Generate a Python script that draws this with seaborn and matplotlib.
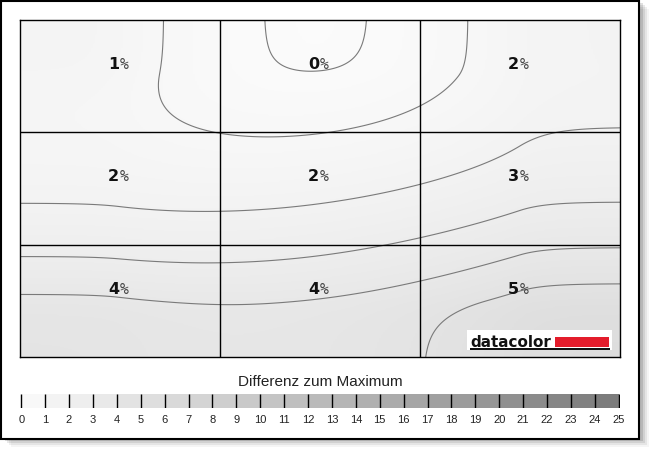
import numpy as np
import matplotlib
matplotlib.use("Agg")
import matplotlib.pyplot as plt
import seaborn as sns
from matplotlib.colors import LinearSegmentedColormap
from matplotlib.patches import Rectangle

# deviation from maximum per measuring field (%), rows top to bottom
row_top = [1.31, 0.48, 1.52]
row_mid = [1.75, 1.75, 2.6]
row_bottom = [4.1, 4.05, 5.3]
contour_levels = [0.45, 1, 2, 3, 4, 5]
scale_ticks = list(range(26))
scale_title = "Differenz zum Maximum"

sns.set_theme(style="white")
plt.rcParams["font.family"] = ["Liberation Sans", "DejaVu Sans"]

values = np.array([row_top, row_mid, row_bottom])
cmap = LinearSegmentedColormap.from_list("grey_scale", ["#fdfdfd", "#7c7c7c"])


def lagrange(t, fade):
    # quadratic basis through the three field centres, extrapolation fades out at the borders
    d_lo = np.clip(0.5 - t, 0, None)
    d_hi = np.clip(t - 2.5, 0, None)
    t = np.where(t < 0.5, 0.5 - fade * (1 - np.exp(-d_lo / fade)), t)
    t = np.where(t > 2.5, 2.5 + fade * (1 - np.exp(-d_hi / fade)), t)
    nodes = np.array([0.5, 1.5, 2.5])
    out = []
    for i in range(3):
        b = np.ones_like(t)
        for j in range(3):
            if i != j:
                b = b * (t - nodes[j]) / (nodes[i] - nodes[j])
        out.append(b)
    return np.array(out)


g = np.linspace(0, 3, 301)
field = lagrange(g, 0.15).T @ values @ lagrange(g, 0.12)

fig = plt.figure(figsize=(6.5, 4.5), dpi=100)
fig.patch.set_facecolor("white")

# screenshot style frame with shadow
for k, a in enumerate([0.10, 0.16, 0.22, 0.30]):
    off = (4 - k) * 2
    fig.patches.append(Rectangle((3 / 650 + off / 650, 0.0244 - off / 450), 638 / 650, 438 / 450,
                                 transform=fig.transFigure, facecolor="#000000", alpha=a * 0.4,
                                 edgecolor="none", zorder=0))
fig.patches.append(Rectangle((1 / 650, 0.0244), 638 / 650, 438 / 450, transform=fig.transFigure,
                             facecolor="white", edgecolor="black", linewidth=1.5, zorder=1))

ax = fig.add_axes([20 / 650, 93 / 450, 600 / 650, 337 / 450])
ax.set_zorder(2)
ax.imshow(field, extent=(0, 3, 3, 0), cmap=cmap, vmin=0, vmax=25, aspect="auto",
          interpolation="bilinear")
ax.contour(g, g, field, levels=contour_levels, colors="#7a7a7a", linewidths=0.8)
ax.set_xlim(0, 3)
ax.set_ylim(3, 0)
for p in [1, 2]:
    ax.axvline(p, color="black", linewidth=1)
    ax.axhline(p, color="black", linewidth=1)
for s in ax.spines.values():
    s.set_color("black")
    s.set_linewidth(1)
    s.set_visible(True)
ax.set_xticks([])
ax.set_yticks([])

for r in range(3):
    for c in range(3):
        cx, cy = c + 0.5, r + 0.5 - 0.105
        ax.text(cx - 0.005, cy, f"{round(values[r, c])}", ha="right", va="center",
                fontsize=11.5, fontweight="bold", family="DejaVu Sans", color="#111111")
        ax.text(cx + 0.0, cy, "%", ha="left", va="center", fontsize=10.5,
                family="DejaVu Sans Mono", color="#444444")

# datacolor logo
def px(x, y):
    return (x - 20) / 200, (y - 20) / (337 / 3)

x0, y0 = px(467, 330)
x1, y1 = px(612, 350)
ax.add_patch(Rectangle((x0, y0), x1 - x0, y1 - y0, facecolor="white", edgecolor="none", zorder=3))
bx0, by0 = px(555, 337)
bx1, by1 = px(609, 347)
ax.add_patch(Rectangle((bx0, by0), bx1 - bx0, by1 - by0, facecolor="#e31c2b", edgecolor="none", zorder=4))
ux0, uy0 = px(470, 348)
ux1, uy1 = px(610, 350)
ax.add_patch(Rectangle((ux0, uy0), ux1 - ux0, uy1 - uy0, facecolor="#111111", edgecolor="none", zorder=4))
tx, ty = px(470, 347)
ax.text(tx, ty, "datacolor", ha="left", va="baseline", fontsize=10.9, fontweight="bold",
        family="DejaVu Sans", color="#111111", zorder=5)

# colour scale
cax = fig.add_axes([20 / 650, 42 / 450, 600 / 650, 14 / 450])
cax.set_zorder(2)
strip = np.array([scale_ticks[1:]], dtype=float)
sns.heatmap(strip, ax=cax, cmap=cmap, vmin=0, vmax=25, cbar=False,
            xticklabels=False, yticklabels=False)
cax.vlines(scale_ticks, 0, 1, color="black", linewidth=1)
cax.set_xlim(-0.05, 25.05)
cax.set_xticks(scale_ticks)
cax.set_xticklabels([str(t) for t in scale_ticks], fontsize=8, color="#222222")
cax.tick_params(axis="x", length=0, pad=5)
cax.set_yticks([])
for s in cax.spines.values():
    s.set_visible(False)
fig.text(320 / 650, 1 - 382 / 450, scale_title, ha="center", va="center", fontsize=11,
         color="#222222", zorder=3)

fig.savefig("out.png", dpi=100)
